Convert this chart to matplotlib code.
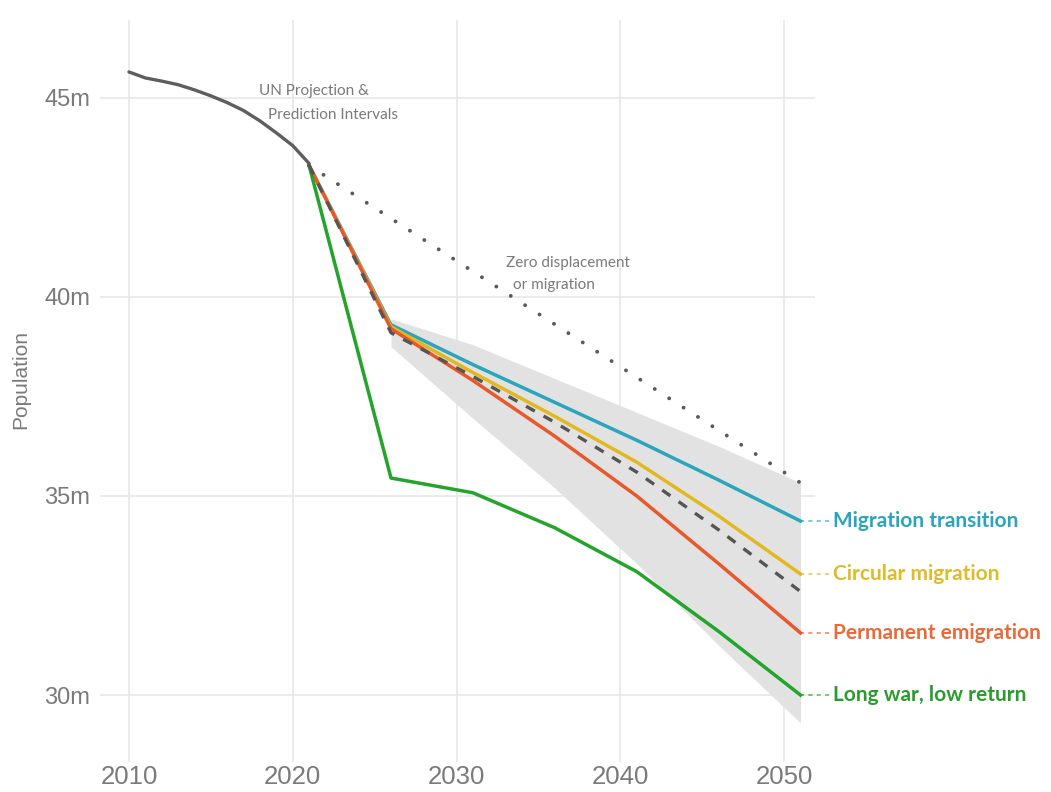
import matplotlib
matplotlib.use("Agg")
import matplotlib.pyplot as plt

# ---- data ----
hist_years = [2010, 2011, 2012, 2013, 2014, 2015, 2016, 2017, 2018, 2019, 2020, 2021]
hist_pop = [45.65, 45.5, 45.42, 45.33, 45.2, 45.05, 44.88, 44.68, 44.42, 44.12, 43.8, 43.35]

scen_years = [2021, 2026, 2031, 2036, 2041, 2046, 2051]
migration_transition = [43.3, 39.3, 38.3, 37.35, 36.4, 35.4, 34.37]
circular_migration = [43.3, 39.25, 38.1, 37.0, 35.85, 34.5, 33.04]
permanent_emigration = [43.3, 39.2, 37.9, 36.5, 35.0, 33.3, 31.56]
long_war = [43.3, 35.45, 35.08, 34.2, 33.1, 31.6, 30.0]
un_median = [43.3, 39.1, 38.0, 36.85, 35.6, 34.15, 32.6]
zero_displacement = [43.3, 41.97, 40.64, 39.31, 37.98, 36.65, 35.33]

band_years = [2026, 2031, 2036, 2041, 2046, 2051]
band_upper = [39.45, 38.8, 37.95, 37.1, 36.25, 35.33]
band_lower = [38.75, 36.95, 35.2, 33.3, 31.25, 29.3]

scenario_labels = ["Migration transition", "Circular migration",
                   "Permanent emigration", "Long war, low return"]

x_ticks = [2010, 2020, 2030, 2040, 2050]
y_ticks = [30, 35, 40, 45]
y_tick_labels = ["30m", "35m", "40m", "45m"]

# ---- styles ----
line_colors = ["#2aa5bb", "#e2b81e", "#e9582b", "#23a42a"]
text_colors = ["#2aa5bb", "#e0bb28", "#e86a3a", "#2a9c2e"]

fig = plt.figure(figsize=(10.51, 7.92), dpi=100)
ax = fig.add_axes([0.0951, 0.038, 0.6804, 0.937])

ax.set_xlim(2008.23, 2051.89)
ax.set_ylim(28.32, 46.96)

ax.fill_between(band_years, band_lower, band_upper, color="#e2e2e2", lw=0, zorder=1)

ax.plot(hist_years, hist_pop, color="#5e5e5e", lw=2.4, zorder=5, solid_capstyle="round")
ax.plot(scen_years, zero_displacement, color="#5a5a5a", lw=2.8,
        linestyle=(0, (0.01, 4.4)), dash_capstyle="round", zorder=4)

series = [migration_transition, circular_migration, permanent_emigration, long_war]
for vals, c in zip(series, line_colors):
    ax.plot(scen_years, vals, color=c, lw=2.5, zorder=3)

ax.plot(scen_years, un_median, color="#555555", lw=2.4,
        linestyle=(0, (3.0, 3.0)), zorder=4)

# right-side labels
for vals, c, tc, lab in zip(series, line_colors, text_colors, scenario_labels):
    yend = vals[-1]
    ax.plot([scen_years[-1], 2052.9], [yend, yend], color=c, lw=1.2,
            linestyle=(0, (2.5, 2.5)), alpha=0.7, clip_on=False, zorder=3)
    ax.text(2053.0, yend, lab, color=tc, fontsize=15, fontweight="bold",
            family=["Lato", "DejaVu Sans"], va="center", ha="left", clip_on=False)

# annotations
ann_kw = dict(color="#7a7a7a", fontsize=11, family=["Lato", "DejaVu Sans"], ha="left", va="center")
ax.text(2017.95, 45.16, "UN Projection &", **ann_kw)
ax.text(2018.5, 44.58, "Prediction Intervals", **ann_kw)
ax.text(2033.05, 40.85, "Zero displacement", **ann_kw)
ax.text(2033.45, 40.3, "or migration", **ann_kw)

# axes styling
ax.set_xticks(x_ticks)
ax.set_yticks(y_ticks)
ax.set_yticklabels(y_tick_labels)
ax.grid(True, color="#e6e6e6", lw=1.1)
ax.set_axisbelow(True)
for s in ax.spines.values():
    s.set_visible(False)
ax.tick_params(length=0)
ax.tick_params(axis="y", pad=7, labelsize=17, labelcolor="#7a7a7a")
ax.tick_params(axis="x", pad=2.5, labelsize=18.5, labelcolor="#7a7a7a")
for lbl in ax.get_yticklabels() + ax.get_xticklabels():
    lbl.set_family(["Liberation Sans", "DejaVu Sans"])

ax.set_ylabel("Population", fontsize=15, color="#7a7a7a",
              family=["Liberation Sans", "DejaVu Sans"], labelpad=10)
ax.yaxis.set_label_coords(-0.097, 0.515)

fig.savefig("out.png", dpi=100, facecolor="white")
